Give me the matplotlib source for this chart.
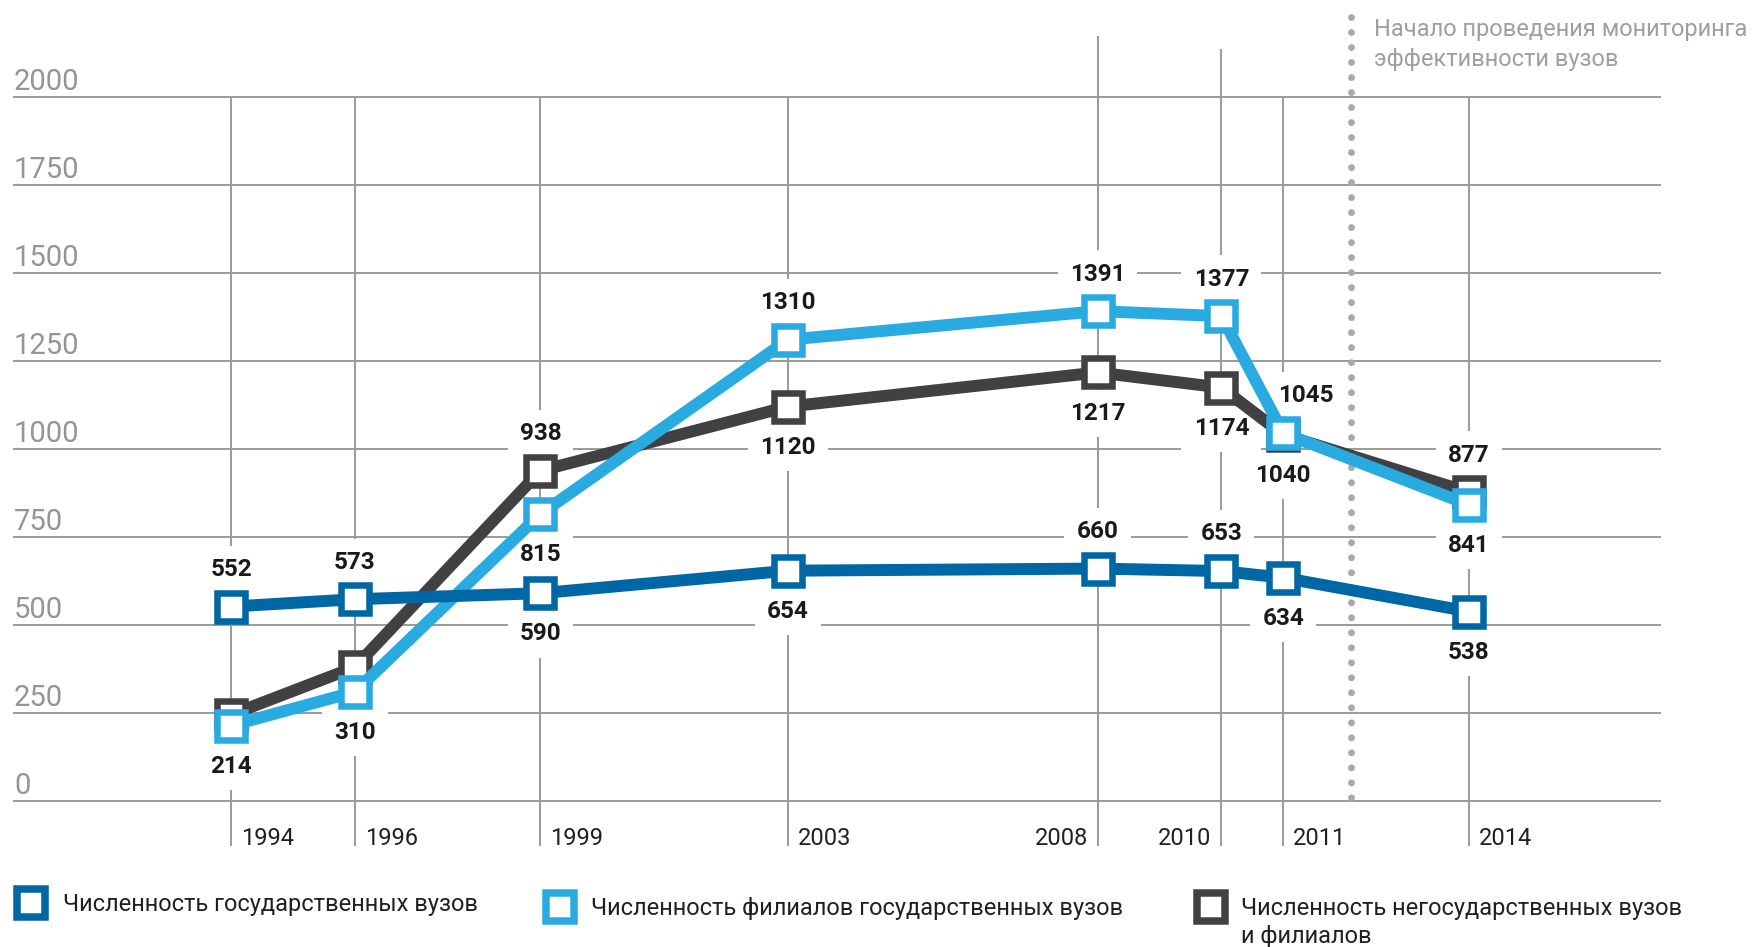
import matplotlib
matplotlib.use('Agg')
import matplotlib.pyplot as plt

plt.rcParams['font.family'] = ['Roboto', 'DejaVu Sans']

# данные
years = [1994, 1996, 1999, 2003, 2008, 2010, 2011, 2014]
state = [552, 573, 590, 654, 660, 653, 634, 538]
branches = [214, 310, 815, 1310, 1391, 1377, 1045, 841]
private = [245, 380, 938, 1120, 1217, 1174, 1040, 877]
y_ticks = [0, 250, 500, 750, 1000, 1250, 1500, 1750, 2000]
legend_labels = ['Численность государственных вузов',
                 'Численность филиалов государственных вузов',
                 'Численность негосударственных вузов\nи филиалов']
note = 'Начало проведения мониторинга\nэффективности вузов'
monitoring_start = 2012.09

# где подпись: 1 сверху, -1 снизу, 0 нет
state_side = [1, 1, -1, -1, 1, 1, -1, -1]
branch_side = [-1, -1, -1, 1, 1, 1, 1, -1]
private_side = [0, 0, 1, -1, -1, -1, -1, 1]

DARK = '#0067a5'
LIGHT = '#29abe2'
GREY = '#414042'
GRID = '#9a9a9a'

W, H = 1756, 947
X0, X1 = 1990.268, 2018.637
Y0, Y1 = -414.6, 2274.6


def px2x(px):
    return X0 + px / W * (X1 - X0)


def py2y(py):
    return Y1 - py / H * (Y1 - Y0)


fig = plt.figure(figsize=(W / 100, H / 100), dpi=100)
ax = fig.add_axes([0, 0, 1, 1])
ax.set_xlim(X0, X1)
ax.set_ylim(Y0, Y1)
ax.axis('off')

# сетка
ax.hlines(y_ticks, px2x(13), px2x(1661), color=GRID, lw=1.4, zorder=1)
tall = {2008: py2y(36), 2010: py2y(49)}
for yr in years:
    ax.vlines(yr, py2y(846), tall.get(yr, 2000), color=GRID, lw=1.4, zorder=1)
    if yr in tall:
        ax.text(yr - 0.16, py2y(845), str(yr), fontsize=17, color='#231f20',
                va='baseline', ha='right')
    else:
        ax.text(yr + 0.16, py2y(845), str(yr), fontsize=17, color='#231f20',
                va='baseline', ha='left')
for v in y_ticks:
    ax.text(px2x(14), v + 20, str(v), fontsize=21, color='#939598',
            va='baseline', ha='left')

# линия начала мониторинга
ax.plot([monitoring_start, monitoring_start], [py2y(17), 0], color='#a7a9ac',
        lw=5, linestyle=(0, (0.001, 2.16)), dash_capstyle='round', zorder=1)
ax.text(px2x(1374), py2y(18), note, fontsize=17, color='#9d9fa2',
        va='top', ha='left', linespacing=1.4)

series = [(private, GREY, private_side, 3),
          (branches, LIGHT, branch_side, 4),
          (state, DARK, state_side, 5)]
for vals, color, sides, z in series:
    ax.plot(years, vals, color=color, lw=8.6, marker='s', ms=20.5, mew=4.7,
            mfc='white', mec=color, zorder=z)
    for yr, v, s in zip(years, vals, sides):
        if s == 0:
            continue
        dx = 16 if (vals is branches and yr == 2011) else 0
        dy = 22 if s > 0 else -34
        ax.annotate(str(v), (yr, v), xytext=(dx, dy), textcoords='offset points',
                    ha='center', va='baseline', fontsize=17.5, fontweight='bold',
                    color='#1a1a1a', zorder=2,
                    bbox=dict(boxstyle='square,pad=0.5', fc='white', ec='none'))

# легенда
legend_pos = [(31, 63, 903), (560, 591, 907), (1211, 1241, 907)]
for (mx, tx, my), color, label in zip(legend_pos, [DARK, LIGHT, GREY], legend_labels):
    ax.plot([px2x(mx)], [py2y(my)], marker='s', ms=20.5, mew=5.4, mfc='white',
            mec=color, clip_on=False, zorder=5)
    ax.text(px2x(tx), py2y(my - 10), label, fontsize=17, color='#231f20',
            va='top', ha='left', linespacing=1.3)

fig.savefig('out.png', dpi=100)
